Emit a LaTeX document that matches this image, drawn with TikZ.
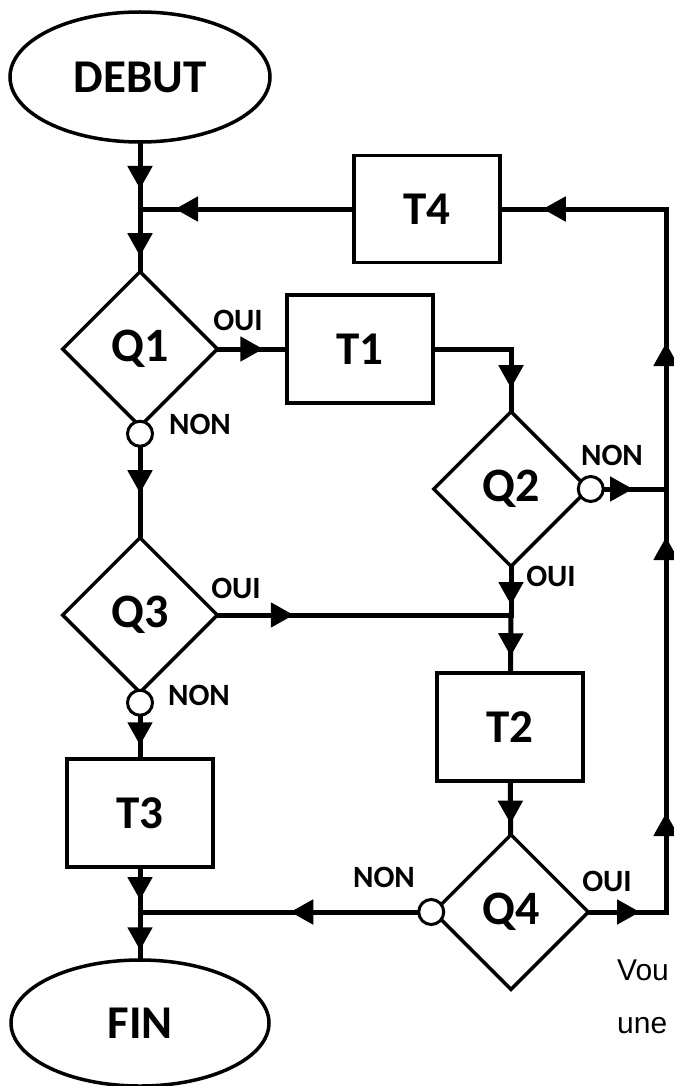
\documentclass[tikz,border=0pt]{standalone}
\usepackage{fontspec}
\setmainfont{Carlito}
\newfontfamily\notefont{Liberation Sans}
\usetikzlibrary{shapes.geometric}
\usetikzlibrary{arrows.meta}
\usetikzlibrary{decorations.markings}
\tikzset{term/.style = {draw, ellipse, line width = 3.5pt, inner sep = 0,
    font = \bfseries\fontsize{47}{47}\selectfont}}
\tikzset{box/.style = {draw, rectangle, line width = 3.5pt, inner sep = 0,
    minimum width = 146pt, minimum height = 108pt,
    font = \bfseries\fontsize{47}{47}\selectfont}}
\tikzset{cond/.style = {draw, diamond, line width = 3.5pt, inner sep = 0,
    minimum width = 156pt, minimum height = 156pt,
    font = \bfseries\fontsize{48}{48}\selectfont}}
\tikzset{ring/.style = {draw, circle, fill = white, line width = 3pt,
    inner sep = 0, minimum size = 25pt}}
\tikzset{lbl/.style = {inner sep = 0, font = \bfseries\fontsize{31}{31}\selectfont}}
\tikzset{note/.style = {inner sep = 0, anchor = base west,
    font = \notefont\fontsize{30}{30}\selectfont}}
\tikzset{flow/.style = {line width = 5pt, line cap = rect, postaction = {decorate},
    decoration = {markings, mark = at position #1 with {\arrow{>}}}}}
\tikzset{flowtwo/.style 2 args = {line width = 5pt, line cap = rect, postaction = {decorate},
    decoration = {markings, mark = at position #1 with {\arrow{>}},
      mark = at position #2 with {\arrow{>}}}}}

\begin{document}
\begin{tikzpicture}[x = 1pt, y = -1pt, >={Triangle[length = 23pt, width = 24pt]}]
  \useasboundingbox (0, 0) rectangle (674, 1086);
  \node [term, minimum width = 260pt, minimum height = 130pt] (debut) at (140, 77) {DEBUT};
  \node [term, minimum width = 258pt, minimum height = 126pt] (fin) at (140, 1023) {FIN};
  \node [box, minimum height = 107pt] (t4) at (427, 209) {T4};
  \node [box] (t1) at (360, 349) {T1};
  \node [box] (t2) at (510, 727) {T2};
  \node [box] (t3) at (140, 813) {T3};
  \node [cond] (q1) at (140, 349) {Q1};
  \node [cond] (q2) at (511, 489) {Q2};
  \node [cond] (q3) at (140, 615) {Q3};
  \node [cond] (q4) at (511, 912) {Q4};
  \node [ring] (q1no) at ([yshift = -5pt] q1.south) {};
  \node [ring] (q2no) at (q2.east) {};
  \node [ring] (q3no) at ([yshift = -8pt] q3.south) {};
  \node [ring] (q4no) at (q4.west) {};
  \coordinate (j1) at (140, 209);
  \coordinate (j2) at (511, 615);
  \coordinate (j3) at (140, 912);
  \coordinate (c1) at (666, 209);
  \coordinate (c2) at (666, 489);
  \coordinate (c3) at (666, 912);
  \draw [flow = -20pt] (debut) -- (j1);
  \draw [flow = -13pt] (j1) -- (q1);
  \draw [flow = -35pt] (t4) -- (j1);
  \draw [flow = -41pt] (c1) -- (t4);
  \draw [flow = -22pt] (q1) -- (t1);
  \draw [flow = -21pt] (t1) -| (q2);
  \draw [flow = -42pt] (q1no) -- (q3);
  \draw [flow = -33pt] (q2no) -- (c2);
  \draw [flow = -10pt] (q2) -- (j2);
  \draw [flow = 74pt] (q3) -- (j2);
  \draw [flow = -15pt] (j2) -- (t2);
  \draw [flow = -12pt] (q3no) -- (t3);
  \draw [flow = -9pt] (t2) -- (q4);
  \draw [flow = -26pt] (q4) -- (c3);
  \draw [flowtwo = {99pt}{-48pt}] (c3) -- (c2);
  \draw [flow = 146pt] (c2) -- (c1);
  \draw [flow = 127pt] (q4no) -- (j3);
  \draw [flow = -12pt] (t3) -- (j3);
  \draw [flow = -8pt] (j3) -- (fin);
  \node [lbl] (q1oui) at (238, 320) {OUI};
  \node [lbl] (q1non) at (200, 424) {NON};
  \node [lbl] (q2non) at (612, 455) {NON};
  \node [lbl] (q2oui) at (551, 576) {OUI};
  \node [lbl] (q3oui) at (236, 588) {OUI};
  \node [lbl] (q3non) at (199, 695) {NON};
  \node [lbl] (q4non) at (384, 877) {NON};
  \node [lbl] (q4oui) at (607, 881) {OUI};
  \node [note] (vou) at (617, 980) {Vou};
  \node [note] (une) at (617, 1033) {une};
\end{tikzpicture}
\end{document}
